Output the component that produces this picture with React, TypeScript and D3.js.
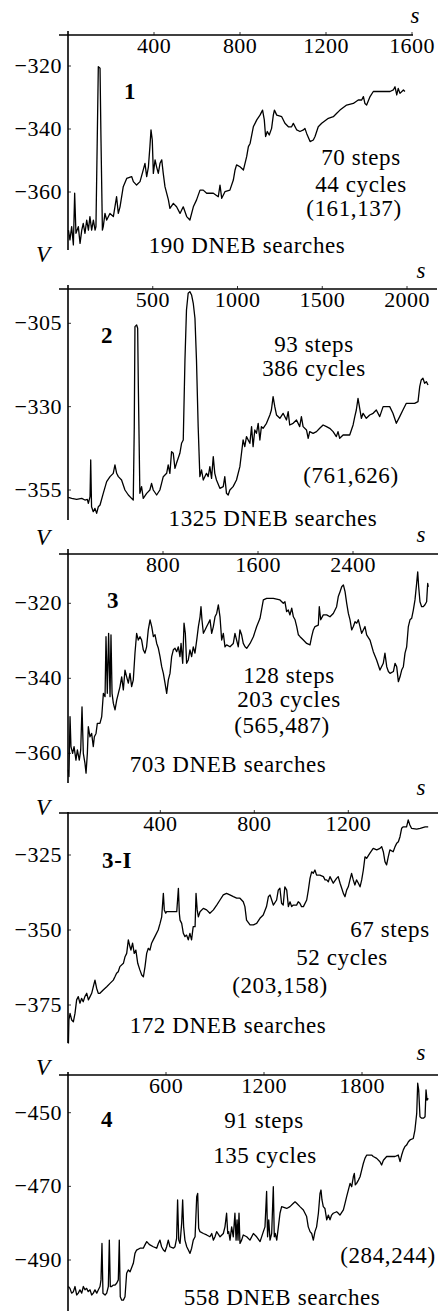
import React from "react";
import * as d3 from "d3";

// ---------- DATA ----------
const trace1: [number, number][] = [
  [2,-372.1],[9,-375.2],[17,-371],[25,-376.8],[31,-360.4],[37,-373.1],[48,-371],[56,-376.3],[64,-372.1],[71,-370],
  [79,-373.1],[87,-368.9],[95,-372.1],[102,-367.8],[110,-372.1],[118,-368.9],[126,-372.1],[130,-371],[136,-343.5],[141,-320.2],
  [149,-320.7],[153,-341.4],[160,-372.1],[164,-371],[172,-366.8],[180,-368.9],[195,-366.8],[211,-367.8],[226,-361.5],[234,-366.8],
  [242,-364.7],[257,-358.3],[273,-355.7],[296,-355.1],[304,-356.7],[319,-357.8],[335,-356.7],[350,-353],[358,-350.9],[366,-355.1],
  [374,-352],[381,-345.6],[386,-340.3],[392,-343.5],[397,-354.1],[405,-349.8],[412,-352],[420,-354.1],[428,-350.9],[436,-349.8],
  [443,-354.1],[451,-358.3],[467,-362.5],[474,-365.2],[490,-363.6],[505,-364.7],[521,-366.8],[536,-364.7],[552,-367.8],[567,-368.9],
  [583,-364.7],[598,-362.5],[614,-359.4],[629,-359.4],[645,-360.4],[676,-360.4],[699,-361.5],[707,-357.8],[715,-362],[730,-359.9],
  [753,-359.4],[769,-356.2],[777,-353],[784,-351.4],[800,-352],[816,-353],[831,-348.8],[839,-345.6],[847,-344.6],[862,-339.3],
  [878,-337.1],[893,-335.6],[905,-334],[913,-337.1],[919,-342.4],[927,-340.8],[936,-341.9],[947,-339.8],[955,-335.6],[960,-334],
  [971,-335.6],[994,-336.1],[1009,-338.2],[1025,-339.3],[1040,-339.3],[1048,-338.2],[1064,-340.3],[1079,-340.8],[1095,-340.3],[1102,-339.8],
  [1110,-341.4],[1126,-344],[1141,-343.5],[1149,-342.4],[1164,-339.3],[1180,-338.2],[1211,-336.6],[1234,-336.1],[1250,-335],[1265,-334],
  [1296,-332.4],[1327,-331.9],[1350,-330.8],[1366,-330.8],[1374,-329.7],[1381,-331.9],[1389,-332.4],[1405,-329.7],[1420,-328.1],[1451,-328.1],
  [1498,-328.1],[1513,-327.6],[1521,-326.6],[1529,-329.2],[1536,-327.1],[1544,-328.7],[1560,-327.6],[1567,-328.1]
];

const trace2: [number, number][] = [
  [2,-357.2],[22,-357.5],[51,-357.8],[81,-357.5],[100,-358],[114,-357.8],[120,-359],[130,-357],[134,-346],[139,-360],
  [149,-361.5],[159,-360.5],[169,-362],[179,-360],[189,-359.5],[208,-356],[228,-352.5],[248,-351],[267,-350],[277,-347.5],
  [287,-350],[297,-351],[316,-352],[336,-355],[356,-356.5],[375,-357.5],[385,-358],[391,-336],[395,-306],[405,-305.5],
  [411,-306.5],[415,-324],[424,-356],[434,-354],[444,-357.5],[464,-356],[483,-355],[493,-353],[503,-355],[523,-356.5],
  [542,-355],[552,-353],[562,-351],[582,-350],[591,-347.5],[601,-350],[611,-343.5],[621,-344],[631,-348.5],[640,-347],
  [660,-344],[670,-341],[680,-340],[690,-316],[699,-301],[709,-296],[719,-295.5],[729,-296.5],[739,-299],[749,-303.5],
  [758,-316],[768,-336],[778,-351],[788,-349],[798,-352],[817,-350],[827,-351],[837,-348],[847,-351.5],[857,-345],
  [866,-350],[876,-352],[896,-354.5],[916,-354],[925,-351],[935,-356],[945,-356.5],[955,-355],[974,-354],[994,-352],
  [1014,-348],[1033,-340],[1043,-342],[1053,-339],[1073,-341],[1083,-336],[1092,-342],[1102,-337],[1112,-338],[1122,-335],
  [1132,-340],[1141,-336],[1151,-336.5],[1171,-335],[1191,-332.5],[1200,-331],[1210,-327],[1220,-330],[1230,-332.5],[1250,-333.5],
  [1269,-332],[1289,-334],[1299,-331.5],[1308,-335.5],[1328,-335],[1348,-334],[1367,-336],[1377,-333],[1387,-336],[1407,-337],
  [1417,-339.5],[1426,-337.5],[1446,-338],[1466,-337.5],[1485,-336.5],[1505,-335.5],[1525,-336],[1544,-336.5],[1564,-337.5],[1583,-339],
  [1593,-337.5],[1603,-339.5],[1623,-338.5],[1642,-338.5],[1662,-338.5],[1672,-337],[1682,-335.5],[1692,-333],[1701,-331],[1711,-327.5],
  [1721,-330.5],[1731,-333.5],[1741,-332],[1760,-333.5],[1780,-332.5],[1800,-332],[1819,-331],[1839,-333],[1859,-330],[1878,-330],
  [1898,-330],[1917,-332],[1937,-335],[1957,-333],[1976,-331],[1996,-329],[2016,-329],[2045,-329],[2065,-328.5],[2075,-324],
  [2084,-322],[2094,-321.5],[2104,-323],[2114,-322.5],[2124,-323.5]
];

const trace3: [number, number][] = [
  [3,-364.4],[8,-366.2],[17,-350.2],[25,-358.2],[39,-360],[51,-358.2],[67,-361.8],[79,-359.1],[95,-361.8],[107,-359.1],
  [118,-347.6],[129,-360],[143,-362.7],[152,-365.3],[163,-360],[171,-352.9],[185,-355.6],[199,-354.7],[213,-358.2],[222,-355.6],
  [236,-354.7],[247,-352],[269,-352],[284,-350.2],[298,-344],[312,-344.9],[320,-328.9],[331,-344],[342,-328],[354,-344.9],
  [362,-328.4],[371,-344],[382,-346.7],[396,-348.4],[410,-345.8],[424,-344],[438,-342.2],[452,-339.6],[466,-343.1],[480,-337.8],
  [494,-339.6],[508,-341.3],[522,-338.7],[536,-342.2],[550,-340.4],[564,-333.3],[578,-328],[592,-329.8],[606,-328.9],[620,-329.8],
  [634,-332.4],[648,-333.3],[662,-331.6],[676,-327.1],[691,-324.4],[705,-326.2],[719,-328.9],[733,-328.4],[747,-330.7],[761,-332],
  [775,-334.2],[789,-336.9],[803,-338.7],[817,-341.3],[831,-344],[845,-340.4],[859,-338.7],[873,-334.2],[887,-332.4],[901,-332],
  [915,-332.9],[929,-331.6],[943,-334.2],[952,-330.7],[966,-336],[977,-325.3],[988,-328],[999,-336],[1013,-335.1],[1027,-332.4],
  [1041,-334.2],[1055,-331.6],[1069,-333.3],[1084,-329.8],[1098,-326.2],[1112,-323.6],[1120,-320.9],[1128,-324.4],[1140,-328],[1154,-327.1],
  [1168,-326.2],[1182,-325.3],[1196,-324.4],[1210,-328],[1224,-326.2],[1238,-323.6],[1252,-322.7],[1266,-320.4],[1280,-323.6],[1294,-329.8],
  [1308,-328],[1322,-331.6],[1336,-331.1],[1364,-331.6],[1392,-330.7],[1406,-328],[1420,-329.8],[1434,-331.6],[1448,-327.1],[1462,-328.4],
  [1476,-330.7],[1491,-331.6],[1505,-332],[1533,-330.7],[1561,-328.9],[1589,-326.2],[1617,-324],[1645,-319.1],[1673,-318.7],[1729,-318.7],
  [1785,-319.1],[1813,-320],[1827,-319.6],[1841,-322.2],[1855,-321.8],[1869,-323.1],[1884,-321.3],[1898,-323.6],[1912,-324.4],[1926,-326.2],
  [1940,-328.4],[1954,-328.9],[1982,-329.8],[2010,-330.7],[2038,-331.1],[2052,-328.9],[2066,-327.1],[2080,-326.2],[2108,-325.8],[2116,-320.9],
  [2128,-324.4],[2150,-323.1],[2178,-323.1],[2206,-323.6],[2234,-322.7],[2262,-320.9],[2276,-318.2],[2291,-316.9],[2305,-315.6],[2319,-315.1],
  [2333,-316.9],[2347,-320],[2361,-322.7],[2375,-324.4],[2389,-327.1],[2403,-326.2],[2417,-324.9],[2431,-325.3],[2445,-324.4],[2459,-326.2],
  [2473,-328],[2487,-327.1],[2501,-326.2],[2515,-328.4],[2543,-329.8],[2571,-332.9],[2599,-335.1],[2627,-337.8],[2655,-336],[2669,-333.3],
  [2684,-336.9],[2698,-338.2],[2712,-338.7],[2740,-338.2],[2754,-336],[2768,-336.9],[2782,-340.9],[2796,-339.6],[2810,-337.8],[2824,-336.9],
  [2838,-333.3],[2852,-331.6],[2866,-326.2],[2880,-324.4],[2894,-324],[2908,-321.8],[2922,-319.1],[2936,-314.7],[2945,-311.6],[2953,-315.6],
  [2964,-319.6],[2978,-320.9],[2992,-320.9],[3006,-320.4],[3020,-319.6],[3029,-314.7],[3034,-315.6]
];

const trace3I: [number, number][] = [
  [9,-387.8],[11,-380],[16,-377.8],[23,-380],[30,-380.6],[37,-377.8],[44,-373.3],[51,-372.2],[58,-374.4],[65,-372.8],
  [72,-373.9],[79,-372.2],[87,-371.1],[94,-373.3],[101,-372.2],[108,-371.1],[115,-368.9],[122,-366.7],[129,-369.4],[136,-371.1],
  [143,-371.1],[157,-370],[172,-368.9],[186,-367.8],[200,-366.7],[207,-365.6],[214,-364.4],[221,-363.9],[228,-362.2],[243,-361.1],
  [250,-358.9],[257,-357.8],[264,-353.3],[271,-355.6],[275,-356.7],[282,-354.4],[289,-357.8],[296,-356.7],[304,-361.1],[313,-363.3],
  [321,-365],[328,-365.6],[335,-362.2],[342,-357.8],[349,-356.1],[356,-356.7],[363,-354.4],[370,-353.3],[377,-352.2],[391,-350],
  [399,-347.8],[406,-345.6],[413,-337.8],[417,-343.3],[423,-344.4],[427,-343.9],[441,-343.9],[455,-343.9],[470,-343.9],[477,-336.1],
  [481,-344.4],[484,-346.7],[491,-347.8],[498,-351.1],[505,-352.2],[512,-351.7],[519,-353.3],[526,-351.1],[533,-353.3],[540,-348.9],
  [548,-348.9],[552,-337.8],[557,-343.3],[562,-345.6],[569,-343.9],[583,-342.8],[597,-343.3],[611,-344.4],[626,-343.3],[640,-341.7],
  [654,-340],[668,-338.3],[682,-337.8],[696,-338.3],[711,-338.9],[725,-339.4],[739,-339.4],[753,-340.6],[760,-342.2],[767,-346.7],
  [782,-348.3],[796,-348.3],[810,-347.8],[824,-346.1],[838,-345],[852,-342.2],[860,-338.9],[867,-338.3],[874,-340],[881,-341.7],
  [895,-340],[902,-336.7],[909,-336.1],[916,-341.1],[923,-341.7],[930,-335.6],[938,-336.7],[945,-342.2],[952,-340.6],[959,-342.2],
  [966,-341.7],[980,-341.7],[987,-340.6],[994,-341.1],[1001,-342.2],[1009,-342.2],[1023,-340],[1030,-336.7],[1037,-332.8],[1044,-330.6],
  [1051,-331.1],[1058,-330],[1065,-331.7],[1079,-331.7],[1094,-332.2],[1101,-333.3],[1108,-333.3],[1115,-333.9],[1122,-332.2],[1129,-333.3],
  [1136,-334.4],[1150,-332.8],[1157,-332.2],[1165,-334.4],[1172,-336.1],[1179,-337.8],[1186,-338.9],[1193,-336.7],[1200,-335.6],[1207,-333.3],
  [1214,-331.1],[1221,-333.3],[1228,-335],[1235,-333.3],[1243,-334.4],[1250,-335.6],[1257,-333.3],[1264,-330],[1271,-325.6],[1278,-326.1],
  [1292,-324.4],[1306,-322.8],[1321,-323.3],[1335,-322.8],[1342,-322.2],[1349,-323.9],[1356,-327.2],[1363,-328.3],[1370,-325.6],[1377,-323.3],
  [1391,-323.9],[1399,-322.2],[1406,-321.1],[1413,-320.6],[1420,-318.9],[1427,-316.1],[1434,-315.6],[1448,-315.6],[1455,-313.3],[1462,-315],
  [1469,-316.1],[1491,-316.4],[1506,-316.1],[1527,-315.6],[1540,-315.6]
];

const trace4: [number, number][] = [
  [2,-497.2],[12,-497.7],[22,-499],[33,-498.6],[43,-497.2],[53,-499.5],[63,-499],[73,-498.1],[84,-499],[94,-497.2],
  [104,-498.1],[114,-497.7],[124,-498.6],[135,-498.1],[145,-499.5],[155,-499],[165,-498.1],[176,-499],[186,-498.1],[196,-497.2],
  [202,-495.4],[208,-485.5],[214,-499],[227,-499.5],[237,-499],[247,-497.2],[253,-484.6],[259,-497.2],[267,-497.2],[278,-496.8],
  [288,-496.8],[298,-496.3],[308,-495.4],[314,-484.6],[320,-500],[329,-500.9],[339,-500.9],[349,-500],[359,-493.6],[369,-492.7],
  [380,-493.2],[400,-490.9],[410,-488.2],[420,-487.3],[441,-486.8],[461,-486.8],[471,-485.9],[482,-485],[492,-485.5],[502,-485.9],
  [522,-486.4],[543,-486.8],[553,-485.5],[563,-484.6],[573,-486.4],[584,-487.3],[594,-487.7],[604,-486.4],[614,-484.6],[624,-486.4],
  [645,-486.8],[655,-486.4],[665,-484.1],[671,-473.7],[678,-484.6],[686,-485.5],[696,-480],[702,-473.7],[708,-481],[716,-484.6],
  [727,-486.4],[737,-487.3],[747,-488.2],[757,-486.8],[767,-484.6],[778,-483.7],[788,-472.8],[794,-471.9],[800,-481.4],[808,-482.3],
  [829,-482.8],[849,-483.2],[869,-483.7],[880,-482.8],[890,-484.6],[900,-483.7],[910,-482.3],[931,-483.7],[951,-482.8],[961,-481],
  [971,-477.3],[978,-482.8],[984,-482.3],[992,-484.6],[1002,-481],[1012,-483.7],[1022,-477.3],[1029,-484.6],[1035,-479.1],[1041,-484.6],
  [1047,-477.3],[1053,-485.5],[1063,-484.6],[1073,-483.2],[1094,-483.7],[1114,-484.6],[1135,-482.8],[1155,-483.7],[1176,-485],[1196,-482.3],
  [1206,-481],[1216,-471.4],[1222,-483.7],[1229,-479.1],[1237,-484.6],[1247,-482.8],[1257,-470.1],[1263,-483.7],[1269,-482.8],[1278,-484.6],
  [1288,-481],[1298,-477.3],[1308,-475.5],[1339,-476],[1359,-475.5],[1380,-474.6],[1390,-474.2],[1400,-474.6],[1420,-475.5],[1441,-476.4],
  [1461,-478.2],[1471,-481],[1482,-482.3],[1492,-482.8],[1502,-484.6],[1512,-482.3],[1522,-481],[1533,-477.3],[1543,-471.9],[1549,-471],
  [1555,-473.7],[1563,-475.5],[1573,-476],[1584,-479.1],[1594,-477.8],[1604,-479.1],[1614,-477.8],[1624,-477.3],[1645,-476.9],[1655,-477.3],
  [1665,-477.8],[1686,-476.4],[1696,-474.6],[1706,-472.8],[1727,-469.2],[1737,-470.1],[1747,-467.4],[1753,-466.5],[1759,-469.6],[1767,-469.2],
  [1778,-468.3],[1788,-467.4],[1798,-465.6],[1808,-463.8],[1818,-462.4],[1829,-461.5],[1859,-461.5],[1869,-461.9],[1890,-462.4],[1910,-463.3],
  [1920,-464.2],[1931,-462.9],[1951,-461.9],[1971,-461.9],[2002,-461.9],[2022,-461.5],[2033,-463.3],[2043,-461.5],[2053,-460.1],[2063,-459.2],
  [2073,-458.8],[2084,-457.9],[2094,-457.4],[2114,-457],[2124,-454.7],[2135,-450.2],[2141,-442],[2147,-443.8],[2155,-451.1],[2165,-451.5],
  [2176,-451.5],[2186,-451.1],[2192,-443.8],[2198,-446.6],[2206,-446.1]
];

const xTicks1 = [400, 800, 1200, 1600];
const yTicks1 = [-320, -340, -360];
const xTicks2 = [500, 1000, 1500, 2000];
const yTicks2 = [-305, -330, -355];
const xTicks3 = [800, 1600, 2400];
const yTicks3 = [-320, -340, -360];
const xTicks3I = [400, 800, 1200];
const yTicks3I = [-325, -350, -375];
const xTicks4 = [600, 1200, 1800];
const yTicks4 = [-450, -470, -490];

const panelNames = ["1", "2", "3", "3-I", "4"];
const stepCounts = [70, 93, 128, 67, 91];
const cycleCounts = [44, 386, 203, 52, 135];
const pairCounts = ["(161,137)", "(761,626)", "(565,487)", "(203,158)", "(284,244)"];
const dnebCounts = [190, 1325, 703, 172, 558];

// ---------- LAYOUT ----------
type Layout = {
  data: [number, number][];
  xTicks: number[];
  yTicks: number[];
  xDom: [number, number];
  xRange: [number, number];
  yDom: [number, number];
  yRange: [number, number];
  axisY: number;
  yTop: number;
  yBottom: number;
  xEnd: number;
  name: [number, number];
  steps: [number, number];
  cycles: [number, number];
  pair: [number, number];
  dneb: [number, number];
  v: [number, number] | null;
  s: [number, number];
};

const layouts: Layout[] = [
  {
    data: trace1, xTicks: xTicks1, yTicks: yTicks1,
    xDom: [0, 1600], xRange: [68, 412], yDom: [-320, -360], yRange: [66, 192],
    axisY: 35, yTop: 31, yBottom: 250, xEnd: 413,
    name: [130, 99], steps: [361, 165], cycles: [361, 192], pair: [354, 216], dneb: [247, 253],
    v: [43, 262], s: [415, 23],
  },
  {
    data: trace2, xTicks: xTicks2, yTicks: yTicks2,
    xDom: [0, 2000], xRange: [68, 407], yDom: [-305, -355], yRange: [323.3, 490],
    axisY: 289, yTop: 285, yBottom: 520, xEnd: 437,
    name: [107, 343], steps: [314, 352], cycles: [314, 376], pair: [351, 483], dneb: [273, 526],
    v: null, s: [421, 278],
  },
  {
    data: trace3, xTicks: xTicks3, yTicks: yTicks3,
    xDom: [0, 2400], xRange: [68, 353], yDom: [-320, -360], yRange: [603.3, 753.3],
    axisY: 554, yTop: 549, yBottom: 783, xEnd: 438,
    name: [113, 608], steps: [289, 683], cycles: [289, 707], pair: [282, 733], dneb: [228, 772],
    v: [43, 545], s: [421, 542],
  },
  {
    data: trace3I, xTicks: xTicks3I, yTicks: yTicks3I,
    xDom: [0, 1200], xRange: [66.3, 348.3], yDom: [-325, -375], yRange: [855, 1005],
    axisY: 813, yTop: 812, yBottom: 1043, xEnd: 438,
    name: [117, 868], steps: [390, 937], cycles: [342, 965], pair: [280, 993], dneb: [228, 1033],
    v: [43, 815], s: [421, 795],
  },
  {
    data: trace4, xTicks: xTicks4, yTicks: yTicks4,
    xDom: [0, 1800], xRange: [68, 362], yDom: [-450, -490], yRange: [1112.7, 1260],
    axisY: 1075, yTop: 1072, yBottom: 1311, xEnd: 438,
    name: [107, 1127], steps: [264, 1128], cycles: [265, 1163], pair: [388, 1263], dneb: [282, 1305],
    v: [43, 1075], s: [421, 1060],
  },
];

const FONT = "'Liberation Serif', 'DejaVu Serif', serif";
const FS = 23;
const LS = 0.6;

function Panel({ L, idx }: { L: Layout; idx: number }) {
  const x = d3.scaleLinear().domain(L.xDom).range(L.xRange);
  const y = d3.scaleLinear().domain(L.yDom).range(L.yRange);
  const line = d3
    .line<[number, number]>()
    .x((d) => x(d[0]))
    .y((d) => y(d[1]));
  return (
    <g>
      <line x1={59} x2={L.xEnd} y1={L.axisY} y2={L.axisY} stroke="#000" strokeWidth={1.6} />
      <line x1={68} x2={68} y1={L.yTop} y2={L.yBottom} stroke="#000" strokeWidth={1.6} />
      {L.xTicks.map((t) => (
        <g key={"xt" + t}>
          <line x1={x(t)} x2={x(t)} y1={L.axisY - 3} y2={L.axisY} stroke="#000" strokeWidth={0.8} />
          <text x={x(t)} y={L.axisY + 18} textAnchor="middle" fontSize={22} letterSpacing={0.4}>{t}</text>
        </g>
      ))}
      {L.yTicks.map((t) => (
        <g key={"yt" + t}>
          <line x1={68} x2={71} y1={y(t)} y2={y(t)} stroke="#000" strokeWidth={0.8} />
          <text x={62} y={y(t) + 7} textAnchor="end" fontSize={22} letterSpacing={0.5}>{"\u2212" + Math.abs(t)}</text>
        </g>
      ))}
      <path d={line(L.data) || ""} fill="none" stroke="#000" strokeWidth={1.3} strokeLinejoin="round" />
      <g letterSpacing={LS}>
        <text x={L.name[0]} y={L.name[1]} textAnchor="middle" fontWeight="bold">{panelNames[idx]}</text>
        <text x={L.steps[0]} y={L.steps[1]} textAnchor="middle">{stepCounts[idx] + " steps"}</text>
        <text x={L.cycles[0]} y={L.cycles[1]} textAnchor="middle">{cycleCounts[idx] + " cycles"}</text>
        <text x={L.pair[0]} y={L.pair[1]} textAnchor="middle">{pairCounts[idx]}</text>
        <text x={L.dneb[0]} y={L.dneb[1]} textAnchor="middle">{dnebCounts[idx] + " DNEB searches"}</text>
      </g>
      {L.v && (
        <text x={L.v[0]} y={L.v[1]} textAnchor="middle" fontStyle="italic">V</text>
      )}
      <text x={L.s[0]} y={L.s[1]} textAnchor="middle" fontStyle="italic">s</text>
    </g>
  );
}

export default function App() {
  return (
    <svg
      width={441}
      height={1311}
      style={{ position: "absolute", left: 0, top: 0, background: "#fff" }}
      fontFamily={FONT}
      fontSize={FS}
      fill="#000"
    >
      <rect x={0} y={0} width={441} height={1311} fill="#fff" />
      {layouts.map((L, i) => (
        <Panel key={i} L={L} idx={i} />
      ))}
    </svg>
  );
}
